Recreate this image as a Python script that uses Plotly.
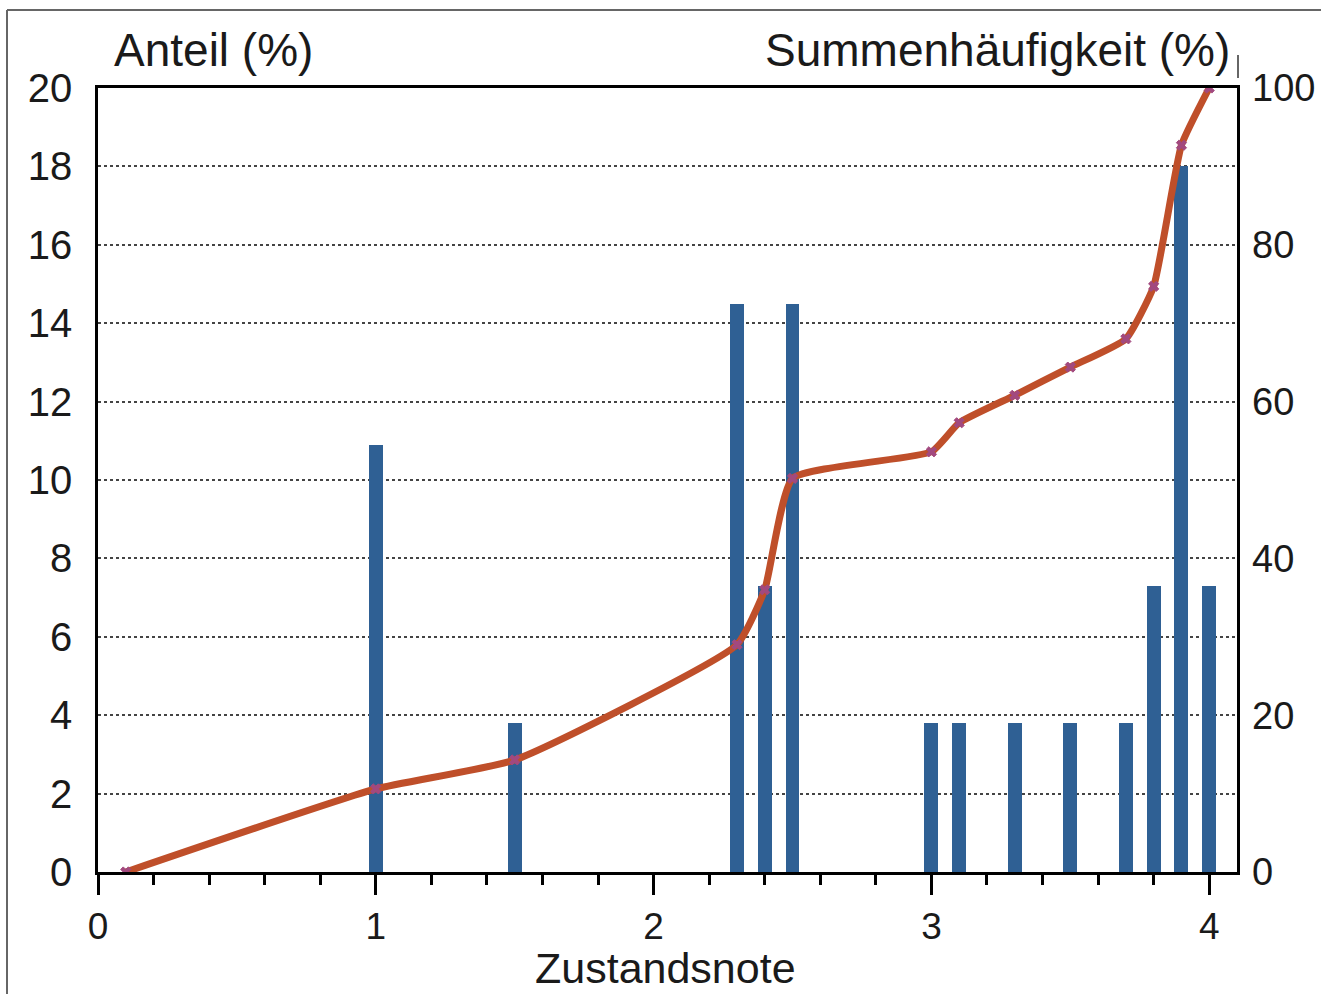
import plotly.graph_objects as go

# Data
grades = [1.0, 1.5, 2.3, 2.4, 2.5, 3.0, 3.1, 3.3, 3.5, 3.7, 3.8, 3.9, 4.0]
share_pct = [10.9, 3.8, 14.5, 7.3, 14.5, 3.8, 3.8, 3.8, 3.8, 3.8, 7.3, 18.0, 7.3]
cum_x = [0.1, 1.0, 1.5, 2.3, 2.4, 2.5, 3.0, 3.1, 3.3, 3.5, 3.7, 3.8, 3.9, 4.0]
cum_pct = [0, 10.6, 14.3, 29.0, 36.0, 50.2, 53.6, 57.3, 60.8, 64.4, 68.0, 74.7, 92.7, 100]

left_ticks = list(range(0, 21, 2))
right_ticks = list(range(0, 101, 20))
x_ticks = [0, 1, 2, 3, 4]

FONT = "Liberation Sans, Arial, sans-serif"
W, H = 1321, 994
L, R, T, B = 98, 84, 88, 122
pw, ph = W - L - R, H - T - B

fig = go.Figure()
fig.add_trace(go.Bar(
    x=grades, y=share_pct, width=0.05,
    marker=dict(color="#2F6094", line=dict(width=0)),
    yaxis="y", showlegend=False,
))
fig.add_trace(go.Scatter(
    x=cum_x, y=cum_pct, yaxis="y2", mode="lines+markers",
    line=dict(color="#BF4F2A", width=7, shape="spline", smoothing=0.45),
    marker=dict(symbol="x", size=9, color="#A2497F", line=dict(width=1, color="#A2497F")),
    showlegend=False,
))

fig.update_layout(
    width=W, height=H,
    margin=dict(l=L, r=R, t=T, b=B, autoexpand=False),
    paper_bgcolor="white", plot_bgcolor="white",
    font=dict(family=FONT, size=40, color="#1a1a1a"),
    bargap=0,
    xaxis=dict(
        range=[0, 4.1], tickmode="array", tickvals=x_ticks,
        ticks="outside", ticklen=20, tickwidth=2.5, tickcolor="black",
        minor=dict(dtick=0.2, tick0=0, ticks="outside", ticklen=10, tickwidth=2.5, tickcolor="black", showgrid=False),
        showline=True, linecolor="black", linewidth=2.5, mirror=True,
        showgrid=False, zeroline=False,
        tickfont=dict(size=37),
    ),
    yaxis=dict(
        range=[0, 20], tickmode="array", tickvals=left_ticks,
        ticks="", ticklabelstandoff=15,
        showline=True, linecolor="black", linewidth=2.5, mirror=True,
        showgrid=True, gridcolor="#444444", gridwidth=1.5, griddash="dot",
        zeroline=False, tickfont=dict(size=40),
    ),
    yaxis2=dict(
        range=[0, 100], tickmode="array", tickvals=right_ticks,
        overlaying="y", side="right", ticks="", ticklabelstandoff=14,
        showline=False, showgrid=False, zeroline=False,
        tickfont=dict(size=38),
    ),
    annotations=[
        dict(text="Anteil (%)", xref="paper", yref="paper",
             x=(112 - L) / pw, y=(H - B - 50) / ph, xanchor="left", yanchor="middle",
             showarrow=False, font=dict(size=46)),
        dict(text="Summenhäufigkeit (%)", xref="paper", yref="paper",
             x=(1232 - L) / pw, y=(H - B - 50) / ph, xanchor="right", yanchor="middle",
             showarrow=False, font=dict(size=46)),
        dict(text="Zustandsnote", xref="paper", yref="paper",
             x=(665 - L) / pw, y=(H - B - 968) / ph, xanchor="center", yanchor="middle",
             showarrow=False, font=dict(size=43)),
    ],
    shapes=[
        # outer frame (top and left edges)
        dict(type="line", xref="paper", yref="paper",
             x0=(7 - L) / pw, x1=(W + 5 - L) / pw, y0=(H - B - 10) / ph, y1=(H - B - 10) / ph,
             line=dict(color="#666666", width=2)),
        dict(type="line", xref="paper", yref="paper",
             x0=(7 - L) / pw, x1=(7 - L) / pw, y0=(H - B - 10) / ph, y1=(H - B - H - 5) / ph,
             line=dict(color="#666666", width=2)),
        # small vertical mark after right title
        dict(type="line", xref="paper", yref="paper",
             x0=(1238 - L) / pw, x1=(1238 - L) / pw, y0=(H - B - 55) / ph, y1=(H - B - 78) / ph,
             line=dict(color="#333333", width=1.5)),
    ],
)

fig.write_html("out.html", config={"displayModeBar": False},
               post_script="document.body.style.margin='0';document.body.style.overflow='hidden';")
